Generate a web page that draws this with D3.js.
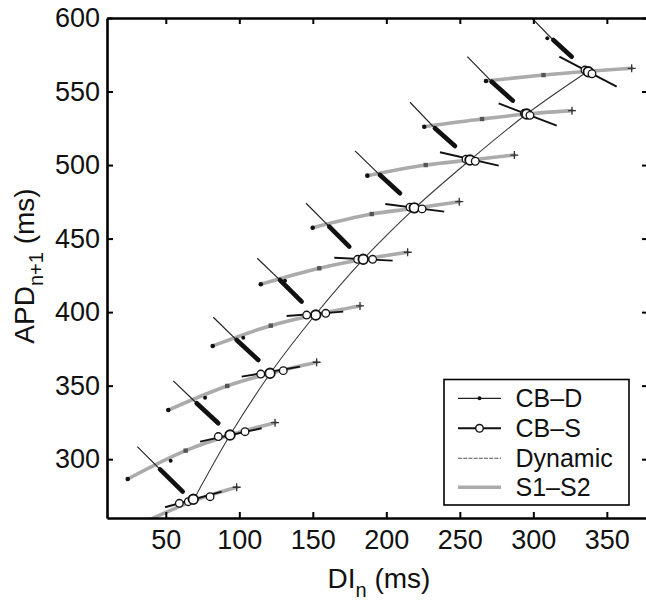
<!DOCTYPE html>
<html><head><meta charset="utf-8">
<script src="https://cdn.jsdelivr.net/npm/d3@7"></script>
<style>body{margin:0;background:#fff}svg{display:block}text{font-family:"Liberation Sans",Arial,Helvetica,sans-serif;fill:#111}</style>
</head><body><svg id="c" width="646" height="601"></svg>
<script>
// ---------- data (DI in ms, APD in ms) ----------
const bcl = [340,410,480,550,620,690,760,830,900];
const dynamicDI  = [68.5,93.7,121.1,151.7,184.3,219.2,256.9,295.5,337.2];
const dynamicAPD = [271.6,316.4,358.4,398.2,435.9,470.6,503.4,534.7,563.8];

const s12StartDI  = [8.0,24.1,51.7,81.9,114.6,149.9,187.1,225.8,267.8];
const s12StartAPD = [245.0,286.5,333.4,377.0,418.9,457.4,492.8,526.1,557.2];
const s12MidDI    = [38.5,63.5,91.8,121.4,154.4,190.1,226.8,265.1,306.9];
const s12MidAPD   = [258.6,305.8,349.8,390.8,429.8,466.7,500.0,531.3,561.2];
const s12EndDI    = [98.2,124.3,152.6,182.1,214.5,249.6,287.1,326.3,366.9];
const s12EndAPD   = [280.9,324.8,365.9,404.2,440.7,475.1,506.8,537.0,565.8];

const cbdThinDI  = [30.6,55.1,82.3,112.2,145.4,178.7,216.1,255.1,298.9];
const cbdThinAPD = [308.5,353.2,396.5,436.6,474.0,509.6,542.7,573.7,600.0];
const cbdMidDI   = [46.1,71.0,98.2,127.7,161.2,195.7,233.1,271.7,313.6];
const cbdMidAPD  = [293.1,338.0,381.0,421.8,458.1,493.2,525.0,556.7,585.0];
const cbdEndDI   = [61.5,85.7,112.9,142.4,174.8,209.3,246.7,286.0,326.1];
const cbdEndAPD  = [277.9,324.4,367.4,407.1,444.5,480.8,513.0,543.8,573.7];
const cbdDotDI   = [53.3,76.7,102.7,131.1,161.2,195.7,233.1,271.7,309.5];
const cbdDotAPD  = [299.0,341.8,382.6,421.4,458.1,493.2,525.0,556.7,586.2];

const cbsStartDI  = [49.5,73.3,101.6,132.2,164.6,199.3,236.5,276.4,317.7];
const cbsStartAPD = [267.3,311.9,356.1,397.4,437.0,473.5,508.7,542.0,573.7];
const cbsEndDI    = [88.0,115.2,141.3,170.7,204.3,239.4,276.4,315.9,356.7];
const cbsEndAPD   = [277.9,321.0,362.9,400.3,435.0,468.3,499.6,526.8,553.3];
const cbsCircleDI = [[59.2,65.3,68.7,80.1],[85.7,93.7,103.9],[114.6,120.9,129.9],[145.8,152.0,158.8],[180.5,184.3,190.7],[216.1,219.0,224.3],[254.2,256.9,260.5],[293.9,295.5,297.7],[335.1,337.4,339.9]];
const cbsCircleAPD = [[270.0,271.1,272.7,274.5],[315.4,316.4,318.7],[357.9,358.4,360.2],[398.0,398.0,399.2],[435.9,435.9,435.9],[471.3,470.9,470.2],[504.0,503.4,502.6],[535.2,534.7,533.8],[564.6,563.4,562.1]];

const xTicks = [50,100,150,200,250,300,350];
const yTicks = [300,350,400,450,500,550,600];
const legendLabels = ["CB\u2013D","CB\u2013S","Dynamic","S1\u2013S2"];

// ---------- layout ----------
const svg = d3.select("#c");
const L = 107, R = 648, T = 18, B = 518;
const x = d3.scaleLinear().domain([10,378]).range([L,R]);
const y = d3.scaleLinear().domain([260,600]).range([B,T]);

svg.append("defs").append("clipPath").attr("id","pc")
  .append("rect").attr("x",L).attr("y",T).attr("width",R-L).attr("height",B-T);
const g = svg.append("g").attr("clip-path","url(#pc)");
const line = d3.line().x(d=>x(d[0])).y(d=>y(d[1]));
const curve = d3.line().x(d=>x(d[0])).y(d=>y(d[1])).curve(d3.curveMonotoneX);

// S1-S2 curves
bcl.forEach((b,i)=>{
  const pts = [[s12StartDI[i],s12StartAPD[i]],[s12MidDI[i],s12MidAPD[i]],[dynamicDI[i],dynamicAPD[i]],[s12EndDI[i],s12EndAPD[i]]];
  g.append("path").attr("d",curve(pts)).attr("fill","none").attr("stroke","#ababab").attr("stroke-width",3.6).attr("stroke-linecap","round");
});
// Dynamic
g.append("path").attr("d",curve(dynamicDI.map((d,i)=>[d,dynamicAPD[i]])))
  .attr("fill","none").attr("stroke","#3a3a3a").attr("stroke-width",1.1);
// CB-D
bcl.forEach((b,i)=>{
  g.append("path").attr("d",line([[cbdThinDI[i],cbdThinAPD[i]],[cbdMidDI[i],cbdMidAPD[i]]]))
    .attr("stroke","#222").attr("stroke-width",1.2).attr("fill","none");
  g.append("path").attr("d",line([[cbdMidDI[i],cbdMidAPD[i]],[cbdEndDI[i],cbdEndAPD[i]]]))
    .attr("stroke","#111").attr("stroke-width",4.6).attr("stroke-linecap","round").attr("fill","none");
  g.append("circle").attr("cx",x(cbdDotDI[i])).attr("cy",y(cbdDotAPD[i])).attr("r",2).attr("fill","#111");
});
// S1-S2 markers
bcl.forEach((b,i)=>{
  g.append("circle").attr("cx",x(s12StartDI[i])).attr("cy",y(s12StartAPD[i])).attr("r",2.3).attr("fill","#111");
  g.append("rect").attr("x",x(s12MidDI[i])-2.2).attr("y",y(s12MidAPD[i])-2.2).attr("width",4.4).attr("height",4.4).attr("fill","#555");
  const ex = x(s12EndDI[i]), ey = y(s12EndAPD[i]);
  g.append("path").attr("d",`M${ex-4},${ey}H${ex+4}M${ex},${ey-4}V${ey+4}`).attr("stroke","#333").attr("stroke-width",1.3);
});
// CB-S
bcl.forEach((b,i)=>{
  g.append("path").attr("d",line([[cbsStartDI[i],cbsStartAPD[i]],[cbsEndDI[i],cbsEndAPD[i]]]))
    .attr("stroke","#111").attr("stroke-width",1.9).attr("fill","none");
  cbsCircleDI[i].forEach((d,j)=>{
    const big = Math.abs(d-dynamicDI[i])<1.5;
    g.append("circle").attr("cx",x(d)).attr("cy",y(cbsCircleAPD[i][j])).attr("r",big?4.8:3.8)
      .attr("fill","#fff").attr("stroke","#111").attr("stroke-width",big?1.8:1.3);
  });
});

// ---------- axes ----------
function styleAxis(sel){
  sel.select(".domain").attr("stroke","#000").attr("stroke-width",2.6);
  sel.selectAll(".tick line").attr("stroke","#000").attr("stroke-width",2);
  sel.selectAll(".tick text").attr("font-size",27).attr("fill","#111")
     .attr("font-family",'"Liberation Sans",Arial,sans-serif');
}
svg.append("g").attr("transform",`translate(0,${B})`)
  .call(d3.axisBottom(x).tickValues(xTicks).tickSizeInner(-6).tickSizeOuter(0).tickPadding(12)).call(styleAxis);
svg.append("g").attr("transform",`translate(0,${T})`)
  .call(d3.axisTop(x).tickValues(xTicks).tickSizeInner(-6).tickSizeOuter(0).tickFormat("")).call(styleAxis);
svg.append("g").attr("transform",`translate(${L},0)`)
  .call(d3.axisLeft(y).tickValues(yTicks).tickSizeInner(-6).tickSizeOuter(0).tickPadding(7)).call(styleAxis);
svg.append("g").attr("transform",`translate(${R},0)`)
  .call(d3.axisRight(y).tickValues(yTicks).tickSizeInner(-6).tickSizeOuter(0).tickFormat("")).call(styleAxis);

// axis labels
const xl = svg.append("text").attr("x",379).attr("y",588).attr("text-anchor","middle").attr("font-size",28);
xl.append("tspan").text("DI");
xl.append("tspan").attr("font-size",20).attr("dy",9).text("n");
xl.append("tspan").attr("dy",-9).text(" (ms)");
const yl = svg.append("text").attr("transform","translate(34,266) rotate(-90)").attr("text-anchor","middle").attr("font-size",28);
yl.append("tspan").text("APD");
yl.append("tspan").attr("font-size",20).attr("dy",9).text("n+1");
yl.append("tspan").attr("dy",-9).text(" (ms)");

// ---------- legend ----------
const lg = svg.append("g");
lg.append("rect").attr("x",444).attr("y",379.5).attr("width",185).attr("height",125.5)
  .attr("fill","#fff").attr("stroke","#000").attr("stroke-width",1.6);
const ly = [398.3,428.3,458.3,487.3];
legendLabels.forEach((t,i)=>{
  lg.append("text").attr("x",515.5).attr("y",ly[i]+9).attr("font-size",25).text(t);
});
lg.append("line").attr("x1",458).attr("x2",501).attr("y1",ly[0]).attr("y2",ly[0]).attr("stroke","#222").attr("stroke-width",1.2);
lg.append("circle").attr("cx",479.5).attr("cy",ly[0]).attr("r",2).attr("fill","#111");
lg.append("line").attr("x1",458).attr("x2",501).attr("y1",ly[1]).attr("y2",ly[1]).attr("stroke","#111").attr("stroke-width",1.9);
lg.append("circle").attr("cx",479.5).attr("cy",ly[1]).attr("r",3.8).attr("fill","#fff").attr("stroke","#111").attr("stroke-width",1.4);
lg.append("line").attr("x1",458).attr("x2",501).attr("y1",ly[2]).attr("y2",ly[2]).attr("stroke","#555").attr("stroke-width",1.1).attr("stroke-dasharray","4,1.2");
lg.append("line").attr("x1",458).attr("x2",501).attr("y1",ly[3]).attr("y2",ly[3]).attr("stroke","#ababab").attr("stroke-width",3.6);
</script></body></html>
